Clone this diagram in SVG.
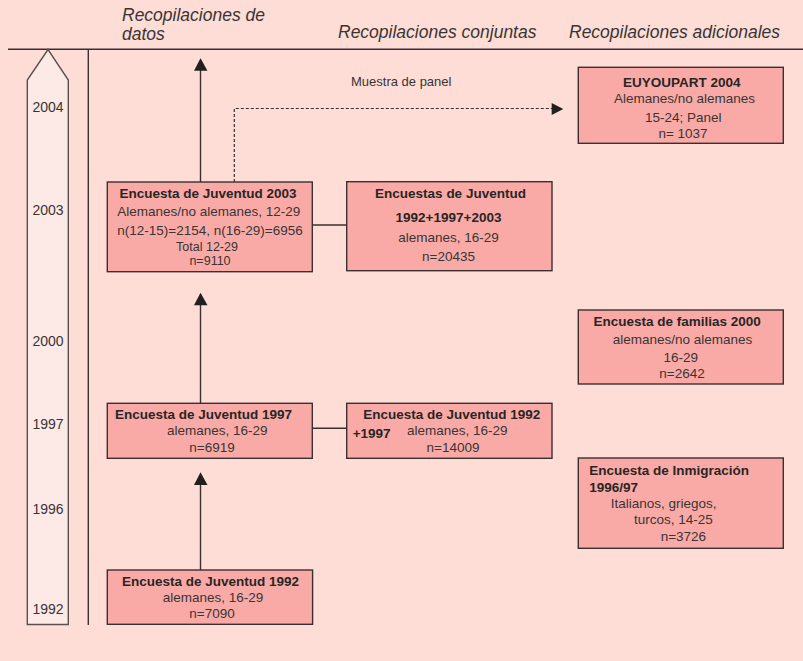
<svg xmlns="http://www.w3.org/2000/svg" width="803" height="661" viewBox="0 0 803 661">
<defs>
<style>
.bg{fill:#FDDDD6}
.box{fill:#F9AAA6;stroke:#3a3030;stroke-width:1.4}
.ln{stroke:#3a3030;stroke-width:1.4;fill:none}
.dash{stroke:#3a3030;stroke-width:1.2;fill:none;stroke-dasharray:3 2}
text{font-family:"Liberation Sans",Arial,sans-serif;fill:#3a3535}
.hd{font-size:17.5px;font-style:italic}
.t{font-size:13.5px}
.s{font-size:12.5px}
.b{font-size:13.5px;font-weight:bold;fill:#2a2525}
.c{text-anchor:middle}
.yr{font-size:14px;text-anchor:middle}
.ah{fill:#231f1f}
</style>
</defs>
<rect class="bg" x="0" y="0" width="803" height="661"/>
<g id="headers">
<text class="hd" x="122" y="21">Recopilaciones de</text>
<text class="hd" x="122" y="40">datos</text>
<text class="hd" x="338" y="38">Recopilaciones conjuntas</text>
<text class="hd" x="569" y="38">Recopilaciones adicionales</text>
</g>
<g id="frame">
<line class="ln" x1="8" y1="49.3" x2="803" y2="49.3"/>
<line class="ln" x1="88.3" y1="49.3" x2="88.3" y2="625"/>
</g>
<g id="timeline">
<path d="M27.3,624.5 L27.3,80 L48,49.5 L68.3,80 L68.3,624.5 Z" fill="#FDE9E5" stroke="#5a4f4f" stroke-width="1.4"/>
<text class="yr" x="48" y="112">2004</text>
<text class="yr" x="48" y="215">2003</text>
<text class="yr" x="48" y="346">2000</text>
<text class="yr" x="48" y="429">1997</text>
<text class="yr" x="48" y="514">1996</text>
<text class="yr" x="48" y="614">1992</text>
</g>
<g id="connectors">
<line class="ln" x1="200.5" y1="182" x2="200.5" y2="70"/>
<polygon class="ah" points="200.5,58.3 194,70.8 207.5,70.8"/>
<line class="ln" x1="200.5" y1="403.3" x2="200.5" y2="305"/>
<polygon class="ah" points="200.5,292.7 194,305.3 207.5,305.3"/>
<line class="ln" x1="200.5" y1="570" x2="200.5" y2="485"/>
<polygon class="ah" points="200.5,472.3 194,485 207.5,485"/>
<polyline class="dash" points="234.3,182 234.3,108.5 552,108.5"/>
<polygon class="ah" points="563.3,109 551.7,103 551.7,115"/>
<line class="ln" x1="312.3" y1="225" x2="346.7" y2="225"/>
<line class="ln" x1="312.3" y1="428.3" x2="346.7" y2="428.3"/>
<text class="t" x="351" y="86" style="font-size:13px">Muestra de panel</text>
</g>
<g id="n2003">
<rect class="box" x="107.3" y="182" width="205" height="89.7"/>
<text class="b c" x="208" y="197.7">Encuesta de Juventud 2003</text>
<text class="t c" x="208.7" y="215.7">Alemanes/no alemanes, 12-29</text>
<text class="t c" x="210" y="234.5">n(12-15)=2154, n(16-29)=6956</text>
<text class="s c" x="207" y="251">Total 12-29</text>
<text class="s c" x="210" y="265.3">n=9110</text>
</g>
<g id="conj2003">
<rect class="box" x="346.7" y="181.7" width="205.3" height="89"/>
<text class="b c" x="450.5" y="197.7">Encuestas de Juventud</text>
<text class="b c" x="448.5" y="222">1992+1997+2003</text>
<text class="t c" x="448.5" y="241.7">alemanes, 16-29</text>
<text class="t c" x="448.5" y="260.7">n=20435</text>
</g>
<g id="n1997">
<rect class="box" x="107.3" y="403.3" width="205" height="55"/>
<text class="b c" x="203.5" y="419">Encuesta de Juventud 1997</text>
<text class="t c" x="217.3" y="435">alemanes, 16-29</text>
<text class="t c" x="212" y="452.3">n=6919</text>
</g>
<g id="conj1997">
<rect class="box" x="346.7" y="403.3" width="205.3" height="55"/>
<text class="b c" x="451.8" y="419">Encuesta de Juventud 1992</text>
<text class="b" x="352.7" y="438.3">+1997</text>
<text class="t c" x="457.2" y="435">alemanes, 16-29</text>
<text class="t c" x="453" y="452.3">n=14009</text>
</g>
<g id="n1992">
<rect class="box" x="107.3" y="570" width="205.3" height="54.3"/>
<text class="b c" x="210.5" y="586">Encuesta de Juventud 1992</text>
<text class="t c" x="213" y="601.7">alemanes, 16-29</text>
<text class="t c" x="212" y="618.3">n=7090</text>
</g>
<g id="euyoupart">
<rect class="box" x="578.3" y="67.3" width="205" height="76"/>
<text class="b c" x="681.8" y="86.7">EUYOUPART 2004</text>
<text class="t c" x="684.5" y="103.3">Alemanes/no alemanes</text>
<text class="t c" x="683.3" y="122.3">15-24; Panel</text>
<text class="t c" x="683" y="137.7">n= 1037</text>
</g>
<g id="familias">
<rect class="box" x="578.3" y="310" width="205" height="74"/>
<text class="b c" x="677.2" y="326">Encuesta de familias 2000</text>
<text class="t c" x="682.5" y="344.3">alemanes/no alemanes</text>
<text class="t c" x="680.8" y="362.3">16-29</text>
<text class="t c" x="682" y="377.7">n=2642</text>
</g>
<g id="inmigracion">
<rect class="box" x="578.3" y="458" width="205" height="90.3"/>
<text class="b" x="589.3" y="475">Encuesta de Inmigración</text>
<text class="b" x="589.3" y="491.7">1996/97</text>
<text class="t" x="610.7" y="508.3">Italianos, griegos,</text>
<text class="t" x="634" y="524">turcos, 14-25</text>
<text class="t" x="660.7" y="540.7">n=3726</text>
</g>
</svg>
